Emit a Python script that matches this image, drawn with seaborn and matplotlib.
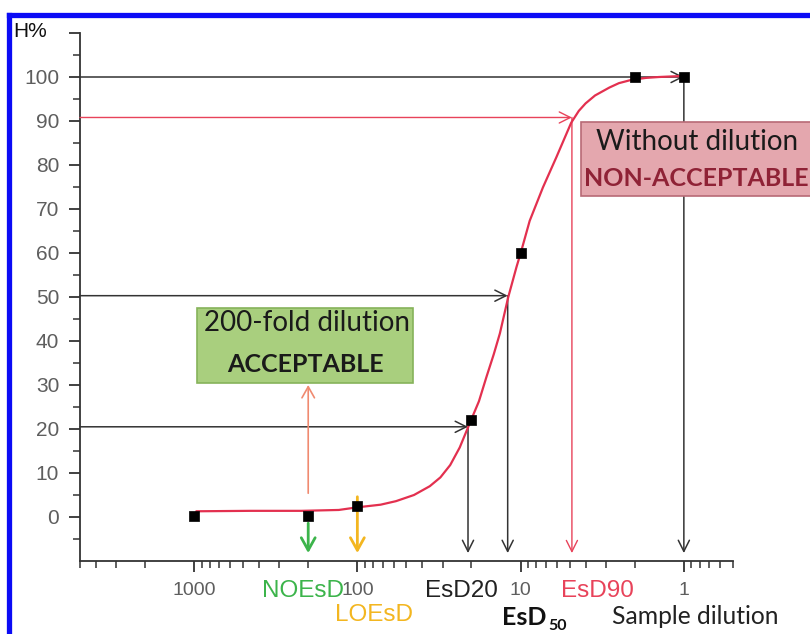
import matplotlib
matplotlib.use("Agg")
import matplotlib.pyplot as plt
from matplotlib.patches import Rectangle
from matplotlib.lines import Line2D
from matplotlib.ticker import LogLocator, NullFormatter, FixedLocator, FixedFormatter
import seaborn as sns

# Measured responses (H%) at each sample dilution
dilution = [1000, 200, 100, 20, 10, 2, 1]
h_percent = [0.2, 0.2, 2.6, 22, 60, 100, 100]

# Fitted dose-response curve
fit_dilution = [970, 450, 220, 130, 100, 72, 58, 45, 36, 31, 27, 23.6, 20.5,
                18, 16.2, 14.6, 13.4, 11.9, 10.6, 9.9, 8.8, 7.3, 6.05, 4.9, 4.4,
                4.0, 3.5, 2.86, 2.5, 2.07, 1.7, 1.42, 1.07]
fit_h = [1.3, 1.4, 1.4, 1.6, 2.2, 2.8, 3.6, 5.0, 7.0, 9.0, 11.8, 15.8, 21.3,
         26.3, 31.8, 37.0, 41.7, 50.0, 56.8, 60.5, 67.3, 74.9, 81.7, 89.6, 92.3,
         94.0, 95.8, 97.6, 98.6, 99.4, 99.8, 100.0, 100.2]

# Effect-dose read-outs: response level -> dilution
esd_levels = [20.5, 50.3, 90.8]
esd_dilutions = [21, 12, 4.85]
plateau_level = 100
plateau_dilution = 1
noesd = 200
loesd = 100

x_ticks = [1000, 100, 10, 1]
x_tick_labels = ["1000", "100", "10", "1"]
y_ticks = [0, 10, 20, 30, 40, 50, 60, 70, 80, 90, 100, 110]
y_tick_labels = ["0", "10", "20", "30", "40", "50", "60", "70", "80", "90", "100", ""]

sns.set_style("ticks")
plt.rcParams["font.family"] = ["Liberation Sans", "DejaVu Sans"]

W, H = 810, 634
fig = plt.figure(figsize=(W / 100, H / 100), dpi=100)


def fx(x):
    return x / W


def fy(y):
    return 1 - y / H


ax = fig.add_axes([fx(80), fy(561), (733 - 80) / W, (561 - 33) / H])
ax.set_xscale("log")

CURVE = "#e3304f"
RED = "#e8435a"
DARK = "#333333"
GREEN = "#3cb44b"
AMBER = "#f3b620"
SALMON = "#f08a70"

sns.lineplot(x=fit_dilution, y=fit_h, ax=ax, color=CURVE, lw=1.6,
             sort=False, estimator=None, zorder=4)
sns.scatterplot(x=dilution, y=h_percent, ax=ax, marker="s", s=55,
                color="black", edgecolor="black", linewidth=0.5, zorder=5)

ax.set_xlim(5000, 0.5)
ax.set_ylim(-10, 110)
ax.set_xlabel("")
ax.set_ylabel("")

for side in ("top", "right"):
    ax.spines[side].set_visible(False)
for side in ("left", "bottom"):
    ax.spines[side].set_color(DARK)
    ax.spines[side].set_linewidth(1.3)

ax.xaxis.set_major_locator(FixedLocator(x_ticks))
ax.xaxis.set_major_formatter(FixedFormatter(x_tick_labels))
ax.xaxis.set_minor_locator(LogLocator(base=10, subs=[2, 3, 4, 5, 6, 7, 8, 9], numticks=20))
ax.xaxis.set_minor_formatter(NullFormatter())
ax.yaxis.set_major_locator(FixedLocator(y_ticks))
ax.yaxis.set_major_formatter(FixedFormatter(y_tick_labels))
ax.yaxis.set_minor_locator(FixedLocator([-5, 5, 15, 25, 35, 45, 55, 65, 75, 85, 95, 105]))

ax.tick_params(which="both", bottom=True, left=True, top=False, right=False)
ax.tick_params(which="major", direction="out", length=8, width=1.3, color=DARK,
               labelcolor="#5e5e5e", labelsize=15)
ax.tick_params(which="minor", direction="out", length=5, width=1.1, color=DARK)
ax.tick_params(axis="y", pad=7)
ax.tick_params(axis="x", pad=7, labelsize=14)


def arrow(x0, y0, x1, y1, color, lw=1.1, hl=0.8, hw=0.4, z=3):
    ax.annotate("", xy=(x1, y1), xytext=(x0, y0), xycoords="data",
                annotation_clip=False, zorder=z,
                arrowprops=dict(arrowstyle=f"->,head_length={hl},head_width={hw}",
                                color=color, lw=lw, shrinkA=0, shrinkB=0,
                                mutation_scale=10))


x_left = 5000
y_floor = -8.2

# plateau read-out
arrow(x_left, plateau_level, plateau_dilution, plateau_level, DARK)
arrow(plateau_dilution, plateau_level, plateau_dilution, y_floor, DARK)

# EsD20 / EsD50 / EsD90 read-outs
for lvl, dil in zip(esd_levels, esd_dilutions):
    col = RED if lvl > 80 else DARK
    arrow(x_left, lvl, dil, lvl, col, lw=1.0 if lvl > 80 else 1.1)
    arrow(dil, lvl, dil, y_floor, col, lw=1.0 if lvl > 80 else 1.1)

# NOEsD / LOEsD markers
arrow(noesd, -1.4, noesd, y_floor, GREEN, lw=2.0, hl=0.9, hw=0.5)
arrow(loesd, 4.6, loesd, y_floor, AMBER, lw=2.0, hl=0.9, hw=0.5)
arrow(noesd, 5.4, noesd, 30.0, SALMON, lw=1.2, hl=0.8, hw=0.45)

# annotation boxes
CAL = ["Lato", "DejaVu Sans"]
green_box = Rectangle((fx(197), fy(383)), fx(413) - fx(197), fy(308) - fy(383),
                      transform=fig.transFigure, facecolor="#a9cf7e",
                      edgecolor="#86b35a", lw=1.2, zorder=6)
fig.add_artist(green_box)
fig.text(fx(307), fy(331), "200-fold dilution", ha="center", va="baseline",
         fontsize=20, color="#1a1a1a", family=CAL, zorder=7)
fig.text(fx(305), fy(372), "ACCEPTABLE", ha="center", va="baseline",
         fontsize=18, color="#1a1a1a", family=CAL, fontweight="bold", zorder=7)

pink_box = Rectangle((fx(581), fy(196)), fx(830) - fx(581), fy(122) - fy(196),
                     transform=fig.transFigure, facecolor="#e4a7ae",
                     edgecolor="#b86a76", lw=1.2, zorder=6)
fig.add_artist(pink_box)
fig.text(fx(697), fy(150), "Without dilution", ha="center", va="baseline",
         fontsize=20, color="#1a1a1a", family=CAL, zorder=7)
fig.text(fx(696), fy(186), "NON-ACCEPTABLE", ha="center", va="baseline",
         fontsize=18, color="#8f2236", family=CAL, fontweight="bold", zorder=7)

# axis captions
fig.text(fx(13), fy(37), "H%", ha="left", va="baseline", fontsize=15, color="#111111")
fig.text(fx(303), fy(597), "NOEsD", ha="center", va="baseline", fontsize=17.5, color=GREEN)
fig.text(fx(374), fy(621), "LOEsD", ha="center", va="baseline", fontsize=17.5, color=AMBER)
fig.text(fx(461), fy(597), "EsD20", ha="center", va="baseline", fontsize=17.5, color="#222222")
fig.text(fx(597), fy(597), "EsD90", ha="center", va="baseline", fontsize=17.5, color=RED)
fig.text(fx(502), fy(625), "EsD", ha="left", va="baseline", fontsize=18,
         family=CAL, fontweight="bold", color="#111111")
fig.text(fx(548), fy(630), "50", ha="left", va="baseline", fontsize=11.5,
         family=CAL, fontweight="bold", color="#111111")
fig.text(fx(612), fy(624), "Sample dilution", ha="left", va="baseline", fontsize=17.7,
         family=CAL, color="#222222")

# frame
BLUE = "#0b0bf5"
fig.add_artist(Line2D([fx(9), fx(9)], [0, fy(15)], transform=fig.transFigure,
                      color=BLUE, lw=3.8, solid_capstyle="projecting"))
fig.add_artist(Line2D([fx(9), 1], [fy(15), fy(15)], transform=fig.transFigure,
                      color=BLUE, lw=3.8, solid_capstyle="projecting"))

fig.savefig("out.png", dpi=100)
